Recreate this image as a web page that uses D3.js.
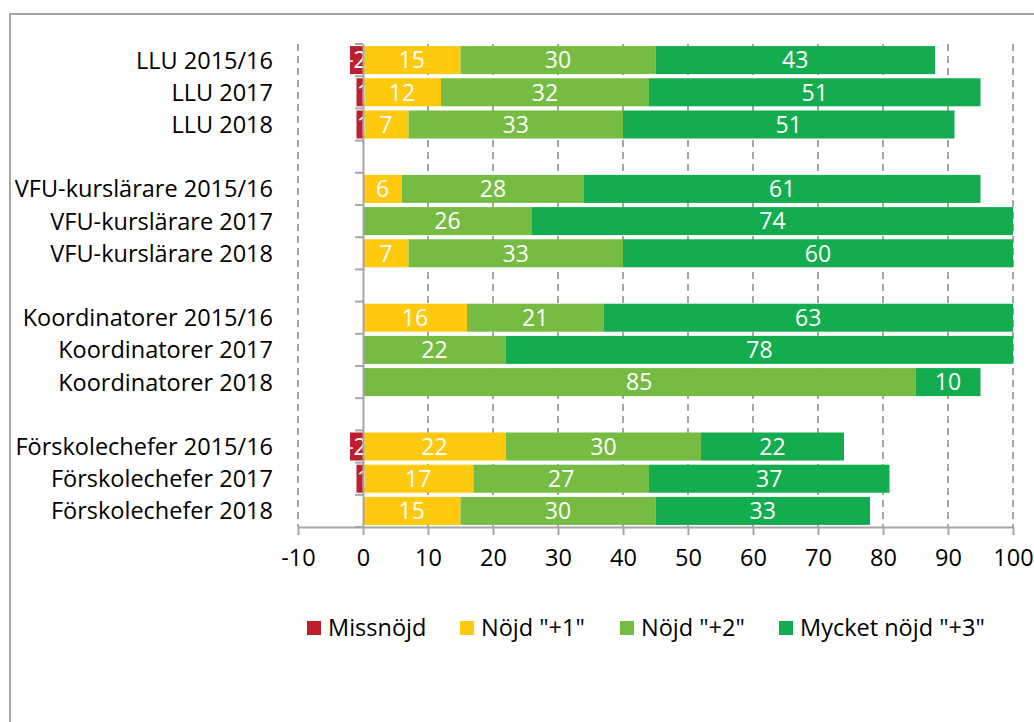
<!DOCTYPE html>
<html>
<head>
<meta charset="utf-8">
<script src="https://cdn.jsdelivr.net/npm/d3@7"></script>
<style>
body { margin: 0; background: #fff; }
text { font-family: "Open Sans", sans-serif; }
</style>
</head>
<body>
<svg width="1034" height="722"></svg>
<script>
// rows, top to bottom; blank names mark empty gap rows
var categories = ["LLU 2015/16", "LLU 2017", "LLU 2018", "",
  "VFU-kurslärare 2015/16", "VFU-kurslärare 2017", "VFU-kurslärare 2018", " ",
  "Koordinatorer 2015/16", "Koordinatorer 2017", "Koordinatorer 2018", "  ",
  "Förskolechefer 2015/16", "Förskolechefer 2017", "Förskolechefer 2018"];
var missnojd = [-2, -1, -1, 0, 0, 0, 0, 0, 0, 0, 0, 0, -2, -1, 0];
var nojd1 = [15, 12, 7, 0, 6, 0, 7, 0, 16, 0, 0, 0, 22, 17, 15];
var nojd2 = [30, 32, 33, 0, 28, 26, 33, 0, 21, 22, 85, 0, 30, 27, 30];
var nojd3 = [43, 51, 51, 0, 61, 74, 60, 0, 63, 78, 10, 0, 22, 37, 33];
var seriesNames = ["Missnöjd", "Nöjd \"+1\"", "Nöjd \"+2\"", "Mycket nöjd \"+3\""];
var colors = ["#BE1E2D", "#FFC90E", "#76BC43", "#13AD4F"];
var ticks = [-10, 0, 10, 20, 30, 40, 50, 60, 70, 80, 90, 100];

var svg = d3.select("svg");
var fs = "23.5px";

// outer frame (only top and left edge visible)
svg.append("rect").attr("x", 10).attr("y", 14).attr("width", 1100).attr("height", 800)
  .attr("fill", "none").attr("stroke", "#A6A6A6").attr("stroke-width", 2);

var x = d3.scaleLinear().domain([-10, 100]).range([298, 1013]);
var y = d3.scaleBand().domain(categories).range([44, 527]).paddingInner(0.13).paddingOuter(0.065);

// dashed gridlines
svg.append("g").selectAll("line").data(ticks.filter(function(d) { return d != 0; })).enter()
  .append("line")
  .attr("x1", function(d) { return x(d); }).attr("x2", function(d) { return x(d); })
  .attr("y1", 44).attr("y2", 527)
  .attr("stroke", "#A6A6A6").attr("stroke-width", 2).attr("stroke-dasharray", "7,5");

// stacked bars: negative part left of 0, positives stacked right
var stacks = [];
categories.forEach(function(c, i) {
  if (missnojd[i] < 0) stacks.push({ c: c, s: 0, x0: missnojd[i], x1: 0, v: missnojd[i] });
  var acc = 0;
  [nojd1[i], nojd2[i], nojd3[i]].forEach(function(v, k) {
    if (v > 0) { stacks.push({ c: c, s: k + 1, x0: acc, x1: acc + v, v: v }); acc += v; }
  });
});

var bars = svg.append("g");
bars.selectAll("rect").data(stacks).enter().append("rect")
  .attr("x", function(d) { return x(d.x0); })
  .attr("width", function(d) { return x(d.x1) - x(d.x0); })
  .attr("y", function(d) { return y(d.c); })
  .attr("height", y.bandwidth())
  .attr("fill", function(d) { return colors[d.s]; });

bars.selectAll("text").data(stacks).enter().append("text")
  .attr("x", function(d) { return (x(d.x0) + x(d.x1)) / 2; })
  .attr("y", function(d) { return y(d.c) + y.bandwidth() / 2; })
  .attr("dy", "0.36em")
  .attr("text-anchor", "middle")
  .attr("fill", "#fff").style("font-size", "23px")
  .text(function(d) { return String(d.v); });

// y axis at 0
var yAxis = svg.append("g").attr("transform", "translate(" + x(0) + ",0)")
  .call(d3.axisLeft(y).tickSize(0).tickFormat(""));
yAxis.select(".domain").attr("stroke", "#A6A6A6").attr("stroke-width", 2);
var edges = d3.range(categories.length + 1).map(function(i) { return 44 + i * (527 - 44) / categories.length; });
yAxis.selectAll(".edge").data(edges).enter().append("line")
  .attr("x1", -8).attr("x2", 0)
  .attr("y1", function(d) { return d; }).attr("y2", function(d) { return d; })
  .attr("stroke", "#A6A6A6").attr("stroke-width", 2);

// category labels
svg.append("g").selectAll("text").data(categories.filter(function(c) { return c.trim() != ""; })).enter()
  .append("text")
  .attr("x", 273)
  .attr("y", function(d) { return y(d) + y.bandwidth() / 2; })
  .attr("dy", "0.36em")
  .attr("text-anchor", "end")
  .attr("fill", "#000").style("font-size", fs)
  .text(function(d) { return d; });

// x axis
var xAxis = svg.append("g").attr("transform", "translate(0,527)")
  .call(d3.axisBottom(x).tickValues(ticks).tickSize(8).tickSizeOuter(0).tickPadding(14)
    .tickFormat(function(d) { return String(d); }));
xAxis.select(".domain").attr("stroke", "#A6A6A6").attr("stroke-width", 2);
xAxis.selectAll(".tick line").attr("stroke", "#A6A6A6").attr("stroke-width", 2);
xAxis.selectAll(".tick text").attr("fill", "#000").style("font-size", fs)
  .style("font-family", "'Open Sans', sans-serif");

// legend
var legendX = [307, 460, 620, 779];
var legend = svg.append("g").selectAll("g").data(seriesNames).enter().append("g")
  .attr("transform", function(d, i) { return "translate(" + legendX[i] + ",621)"; });
legend.append("rect").attr("width", 14).attr("height", 14)
  .attr("fill", function(d, i) { return colors[i]; });
legend.append("text").attr("x", 21).attr("y", 7).attr("dy", "0.36em")
  .attr("fill", "#000").style("font-size", fs)
  .text(function(d) { return d; });
</script>
</body>
</html>
